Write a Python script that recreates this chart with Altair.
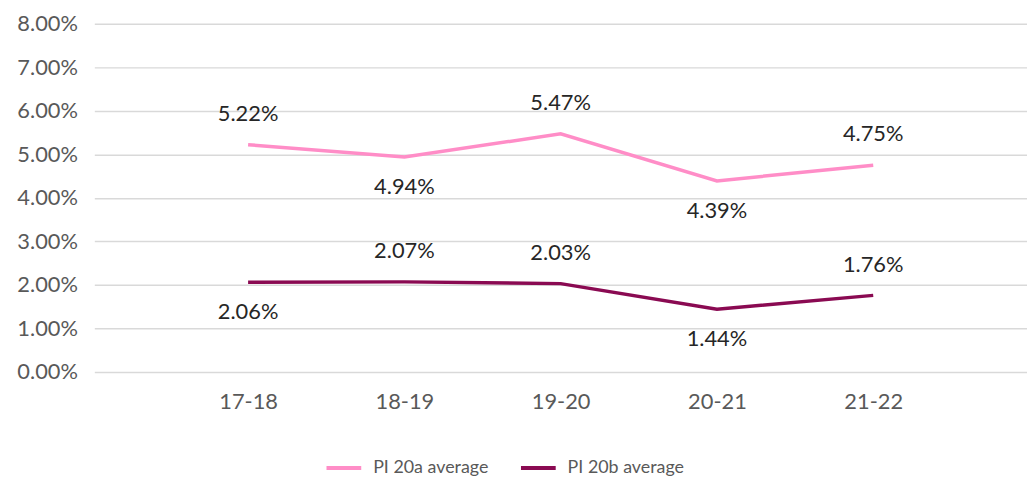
import altair as alt
import pandas as pd

years = ["17-18", "18-19", "19-20", "20-21", "21-22"]
series_a = [5.22, 4.94, 5.47, 4.39, 4.75]
series_b = [2.06, 2.07, 2.03, 1.44, 1.76]
place_a = ["above", "below", "above", "below", "above"]
place_b = ["below", "above", "above", "below", "above"]
names = ["PI 20a average", "PI 20b average"]
colors = ["#FF8DC7", "#8A0A52"]

rows = []
for y, v, p in zip(years, series_a, place_a):
    rows.append({"year": y, "value": v / 100, "series": names[0], "place": p})
for y, v, p in zip(years, series_b, place_b):
    rows.append({"year": y, "value": v / 100, "series": names[1], "place": p})
df = pd.DataFrame(rows)

FONT = "Lato"
x = alt.X("year:N", sort=years, title=None,
          scale=alt.Scale(type="point", padding=0.984),
          axis=alt.Axis(labelAngle=0, labelFontSize=22, labelColor="#595959",
                        labelFont=FONT, labelPadding=20, ticks=False,
                        domain=False, grid=False))
y = alt.Y("value:Q", title=None,
          scale=alt.Scale(domain=[0, 0.08], nice=False),
          axis=alt.Axis(format=".2%", values=[i / 100 for i in range(9)],
                        labelFontSize=22, labelColor="#595959", labelFont=FONT,
                        labelPadding=17, ticks=False, domain=False,
                        gridColor="#D9D9D9", gridWidth=1.5))
color = alt.Color("series:N", sort=names,
                  scale=alt.Scale(domain=names, range=colors),
                  legend=alt.Legend(title=None, orient="none", direction="horizontal",
                                    legendX=232, legendY=428, padding=0,
                                    symbolType="stroke",
                                    symbolSize=1225, symbolStrokeWidth=4,
                                    labelFont=FONT, labelFontSize=18,
                                    labelColor="#595959", columnPadding=24,
                                    labelOffset=10))

base = alt.Chart(df)
lines = base.mark_line(strokeWidth=3.5).encode(x=x, y=y, color=color)
above = base.transform_filter(alt.datum.place == "above").mark_text(
    dy=-31, fontSize=22, font=FONT, color="#262626").encode(
    x=x, y=y, text=alt.Text("value:Q", format=".2%"))
below = base.transform_filter(alt.datum.place == "below").mark_text(
    dy=30, fontSize=22, font=FONT, color="#262626").encode(
    x=x, y=y, text=alt.Text("value:Q", format=".2%"))

chart = alt.layer(lines, above, below).properties(
    width=940, height=351,
    background="white",
    autosize=alt.AutoSizeParams(type="none"),
    padding={"left": 87, "top": 14, "right": 0, "bottom": 105},
).configure_view(stroke="transparent", strokeWidth=0).configure_axis(domain=False)

chart.save("out.html", embed_options={"renderer": "svg", "actions": False})
